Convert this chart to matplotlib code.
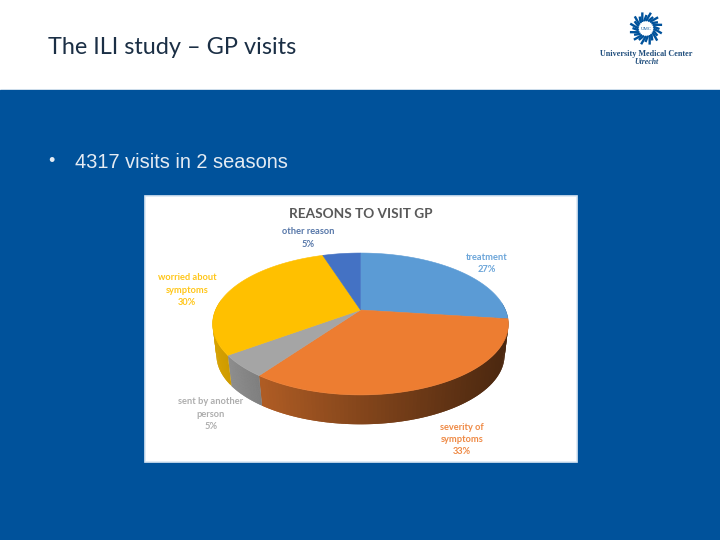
import numpy as np
import matplotlib
matplotlib.use("Agg")
import matplotlib.pyplot as plt
from matplotlib.patches import Rectangle, Polygon
from matplotlib.collections import PolyCollection
from matplotlib.colors import to_rgb

# Pie data
reasons = ["treatment", "severity of\nsymptoms", "sent by another\nperson", "worried about\nsymptoms", "other reason"]
shares = [27, 33, 5, 30, 5]
top_colors = ["#5b9bd5", "#ed7d31", "#a5a5a5", "#ffc000", "#4472c4"]
label_colors = ["#5b9bd5", "#ed7d31", "#a5a5a5", "#ffc000", "#44689f"]

slide_title = "The ILI study \u2013 GP visits"
bullet_mark = "\u2022"
bullet = "4317 visits in 2 seasons"
chart_title = "REASONS TO VISIT GP"
logo_lines = ["University Medical Center", "Utrecht"]

NAVY = "#00529b"

# Pie geometry in slide pixels
cx, cy = 360.5, 310
R, B, K = 145, 68.2, 0.197
DEPTH = 32
BOTTOM_SCALE = 0.975


def project(theta, r=1.0):
    # theta clockwise from 12 o'clock, simple perspective so the near side is bigger
    u = r * np.sin(theta)
    v = r * np.cos(theta)
    w = 1 + K * v
    return cx + R * u / w, cy - B * v / w


fig = plt.figure(figsize=(7.2, 5.4), dpi=100)
ax = fig.add_axes([0, 0, 1, 1])
ax.set_xlim(0, 720)
ax.set_ylim(540, 0)
ax.axis("off")

# slide background
ax.add_patch(Rectangle((0, 90), 720, 450, color=NAVY, zorder=0))
ax.text(48, 47.5, slide_title, fontsize=16.9, family="Lato", color="#1b2f45",
        va="center", ha="left")
ax.text(48, 162, bullet_mark, fontsize=13, family="Liberation Sans", color="#e4ebf3",
        va="center", ha="left")
ax.text(75, 162, bullet, fontsize=14.4, family="Liberation Sans", color="#e4ebf3",
        va="center", ha="left")

# chart panel
ax.add_patch(Rectangle((145, 195.5), 432, 266.5, fc="white", ec="#dbe8f4", lw=1.2, zorder=1))
ax.text(361, 214.5, chart_title, fontsize=9.8, family="Lato", fontweight="bold",
        color="#595959", ha="center", va="center", zorder=5)

edges = np.cumsum([0] + shares) / sum(shares) * 2 * np.pi

# side wall, shaded left to right, only the front half shows
for i in range(len(shares)):
    ts = np.linspace(edges[i], edges[i + 1], 90)
    quads, cols = [], []
    for j in range(len(ts) - 1):
        a, b = ts[j], ts[min(j + 2, len(ts) - 1)]  # overlap next strip so no seams
        if np.cos(a) > 0.12:
            continue
        xa, ya = project(a)
        xb, yb = project(b)
        xa2, ya2 = project(a, BOTTOM_SCALE)
        xb2, yb2 = project(b, BOTTOM_SCALE)
        quads.append([(xa, ya), (xb, yb), (xb2, yb2 + DEPTH), (xa2, ya2 + DEPTH)])
        # lit on the left, falling off toward the right
        t = np.clip((xa - (cx - R)) / (2 * R), 0, 1)
        f = 0.84 - 0.52 * t ** 0.9
        cols.append(tuple(c * f for c in to_rgb(top_colors[i])))
    if quads:
        ax.add_collection(PolyCollection(quads, facecolors=cols, edgecolors="none", zorder=2))

# top face
for i in range(len(shares)):
    ts = np.linspace(edges[i], edges[i + 1], 120)
    xs, ys = project(ts)
    pts = np.column_stack([np.r_[cx, xs], np.r_[cy, ys]])
    ax.add_patch(Polygon(pts, closed=True, fc=top_colors[i], ec=top_colors[i], lw=0.4, zorder=3))

# labels
label_pos = [(487, 257), (462, 427), (211, 402), (187, 278), (308, 232)]
for name, share, col, (lx, ly) in zip(reasons, shares, label_colors, label_pos):
    lines = name.split("\n") + [f"{share}%"]
    for n, line in enumerate(lines):
        ax.text(lx, ly + n * 12.4, line, fontsize=6.7, family="Lato", fontweight="bold",
                color=col, alpha=0.9, ha="center", va="center", zorder=5)

# logo: spokes around a ring
spoke_angles = np.linspace(0, 2 * np.pi, 24, endpoint=False)
for n, a in enumerate(spoke_angles):
    r_out = 16.5 if n % 2 == 0 else 13.5
    ax.plot([646 + 7.5 * np.cos(a), 646 + r_out * np.cos(a + 0.3)],
            [28.5 + 7.5 * np.sin(a), 28.5 + r_out * np.sin(a + 0.3)],
            color=NAVY, lw=1.7, solid_capstyle="butt", zorder=2)
ax.text(646, 28.5, "UMC", fontsize=3.5, family="Liberation Serif", color=NAVY, ha="center", va="center")
ax.text(646, 54, logo_lines[0], fontsize=5.9, family="Liberation Serif", color="#1f4d7c",
        fontweight="bold", ha="center", va="center")
ax.text(646, 62.5, logo_lines[1], fontsize=5.6, family="Liberation Serif", style="italic",
        fontweight="bold", color="#1f4d7c", ha="center", va="center")

fig.savefig("out.png", dpi=100)
